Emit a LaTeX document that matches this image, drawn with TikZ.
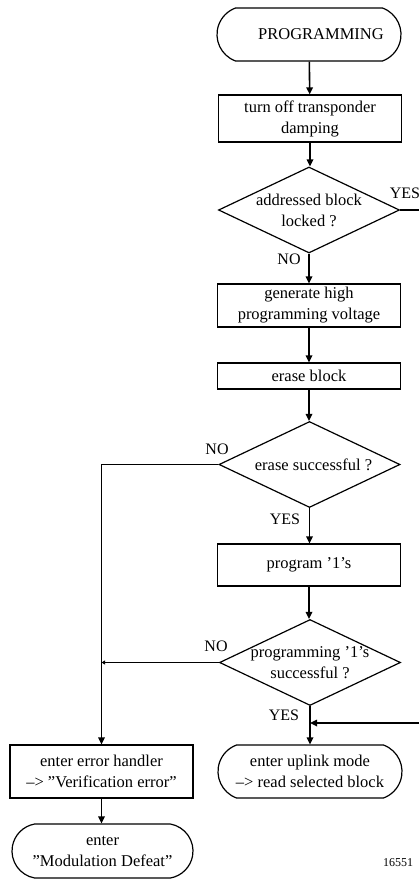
\documentclass[tikz,border=0pt]{standalone}
\usepackage{fontspec}
\setmainfont{Liberation Serif}
\usetikzlibrary{shapes.geometric,shapes.misc,arrows.meta}
\begin{document}
\begin{tikzpicture}[x=1pt,y=-1pt,
		every node/.style={font=\fontsize{16.5}{21}\selectfont,align=center,inner sep=0pt},
		procbox/.style={draw,line width=1.2pt,rectangle,minimum width=#1},
		procbox/.default=183pt,
		termbox/.style={draw,line width=1.2pt,rounded rectangle,rounded rectangle arc length=140,minimum width=184pt,minimum height=53pt},
		decide/.style={draw,line width=1.2pt,diamond,minimum width=181pt,minimum height=86pt},
		flow/.style={line width=1.6pt,-{Triangle[length=7pt,width=6.5pt]}},
		joinflow/.style={line width=1.6pt,-{Triangle[length=3.5pt,width=4pt]}},
		plain/.style={line width=1.6pt},
		lbl/.style={font=\fontsize{16}{18}\selectfont}]
				\useasboundingbox (0,0) rectangle (419,882);
				\node[termbox] (start) at (309,34.5) {\hspace*{24pt}PROGRAMMING};
				\node[procbox,minimum height=47pt] (damp) at (310,118.5) {turn off transponder\\damping};
				\node[decide] (lock) at (309,210) {};
				\node (lock-t) at (lock) {addressed block\\locked ?};
				\node[procbox,minimum height=43pt] (volt) at (309,305.5) {generate high\\programming voltage};
				\node[procbox,minimum height=26pt] (erase) at (309,376) {erase block};
				\node[decide] (eok) at (309.5,464.5) {};
				\node (eok-t) at ([xshift=4pt]eok) {erase successful ?};
				\node[procbox,minimum height=42pt] (prog) at (309,565) {program ’1’s};
				\node[decide] (pok) at (310,662.5) {};
				\node (pok-t) at (pok) {programming ’1’s\\successful ?};
				\node[termbox] (uplink) at (310,771.5) {enter uplink mode\\–> read selected block};
				\node[procbox,minimum height=53pt] (err) at (101.5,771.5) {enter error handler\\–> ”Verification error”};
				\node[termbox,minimum width=181pt,minimum height=54pt,rounded rectangle arc length=160] (defeat) at (102.5,851) {enter\\”Modulation Defeat”};
				\node[lbl] (lock-yes) at (405,193) {YES};
				\node[lbl] (lock-no) at (289,259) {NO};
				\node[lbl] (eok-no) at (217,449) {NO};
				\node[lbl] (eok-yes) at (285,519) {YES};
				\node[lbl] (pok-no) at (216,646) {NO};
				\node[lbl] (pok-yes) at (284,715) {YES};
				\node[font=\fontsize{12}{14}\selectfont] (fig-no) at (398,863) {16551};
				\coordinate (lock-out) at (419,210);
				\coordinate (back-in) at (419,723);
				\draw[flow] (start) -- (damp);
				\draw[flow] (damp) -- (damp |- lock.north);
				\draw[flow] (lock) -- (volt);
				\draw[plain] (lock.east) -- (lock-out);
				\draw[flow] (volt) -- (erase);
				\draw[flow] (erase) -- (erase |- eok.north);
				\draw[flow] (eok) -- (eok |- prog.north);
				\draw[flow] (eok.west) -| (err);
				\draw[flow] (prog) -- (prog |- pok.north);
				\draw[joinflow] (pok.west) -- (pok.west -| err.north);
				\draw[flow] (pok.south) -- (pok.south |- uplink.north);
				\draw[flow] (back-in) -- (back-in -| pok.south);
				\draw[flow] (err) -- (err |- defeat.north);
			\end{tikzpicture}
\end{document}
